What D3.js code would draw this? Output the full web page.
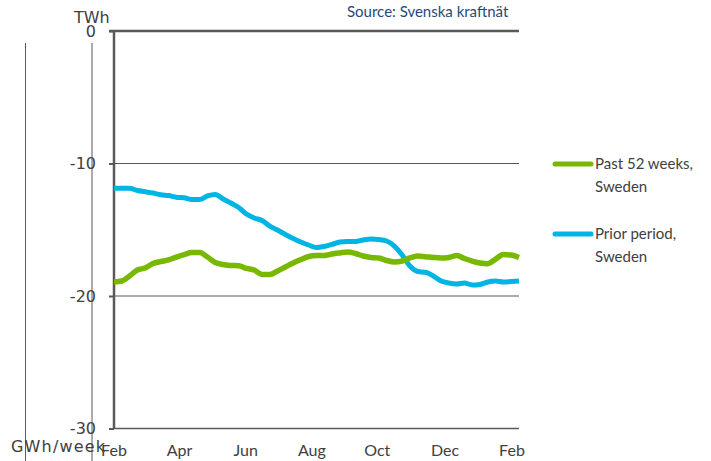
<!DOCTYPE html>
<html>
<head>
<meta charset="utf-8">
<script src="https://cdn.jsdelivr.net/npm/d3@7/dist/d3.min.js"></script>
<style>
  body { margin: 0; background: #fff; }
  svg { display: block; }
</style>
</head>
<body>
<svg id="chart" width="711" height="461"></svg>
<script>
// weekly values, TWh, 53 weeks Feb -> Feb
var past52 = [-18.94, -18.87, -18.49, -18.04, -17.89, -17.55, -17.40, -17.28, -17.06, -16.87,
    -16.72, -16.72, -17.06, -17.47, -17.62, -17.70, -17.71, -17.92, -18.04, -18.38,
    -18.38, -18.11, -17.81, -17.51, -17.25, -17.02, -16.94, -16.94, -16.83, -16.75,
    -16.68, -16.79, -16.98, -17.09, -17.13, -17.32, -17.43, -17.36, -17.13, -16.98,
    -17.03, -17.09, -17.13, -17.09, -16.94, -17.17, -17.36, -17.51, -17.56, -17.21,
    -16.87, -16.91, -17.09];
var prior = [-11.87, -11.87, -11.87, -12.04, -12.13, -12.23, -12.36, -12.42, -12.54, -12.58,
    -12.72, -12.72, -12.45, -12.34, -12.68, -12.98, -13.32, -13.81, -14.11, -14.30,
    -14.72, -15.02, -15.36, -15.66, -15.92, -16.15, -16.34, -16.26, -16.11, -15.92,
    -15.89, -15.89, -15.77, -15.70, -15.74, -15.85, -16.23, -16.91, -17.74, -18.15,
    -18.21, -18.49, -18.87, -19.02, -19.09, -19.02, -19.17, -19.13, -18.94, -18.87,
    -18.94, -18.91, -18.87];

var monthLabels = ["Feb", "Apr", "Jun", "Aug", "Oct", "Dec", "Feb"];
var monthWeeks = [0, 8.4, 16.9, 25.4, 33.8, 42.5, 51.1];
var yTicks = [0, -10, -20, -30];

var seriesNames = [["Past 52 weeks,", "Sweden"], ["Prior period,", "Sweden"]];
var seriesColors = ["#78b800", "#00b4e4"];

var svg = d3.select("#chart");

//scales
var x = d3.scaleLinear().domain([0, past52.length - 1]).range([114, 519]);
var y = d3.scaleLinear().domain([-30, 0]).range([428.5, 31]);

var axisColor = "#595959",
    textColor = "#404040";

//the two odd vertical lines on the left
svg.selectAll(".vline").data([25.5, 92]).enter()
    .append("line")
    .attr("x1", function (d) { return d; })
    .attr("x2", function (d) { return d; })
    .attr("y1", 43).attr("y2", 461)
    .attr("stroke", axisColor).attr("stroke-width", 1);

//gridlines
svg.selectAll(".grid").data([-10, -20]).enter()
    .append("line")
    .attr("x1", x(0)).attr("x2", x(52))
    .attr("y1", function (d) { return y(d); })
    .attr("y2", function (d) { return y(d); })
    .attr("stroke", axisColor).attr("stroke-width", 1);

//y axis
var yAxis = d3.axisLeft(y).tickValues(yTicks).tickSize(5).tickFormat(function (d) { return d; });
var gy = svg.append("g").attr("transform", "translate(" + x(0) + ",0)").call(yAxis);
gy.select(".domain").remove();
gy.selectAll(".tick line").attr("stroke", axisColor).attr("stroke-width", 2);
gy.selectAll(".tick text")
    .attr("x", -18)
    .attr("fill", textColor)
    .style("font-family", "DejaVu Sans")
    .style("font-size", "16px");

//frame: top line, left axis, bottom axis
svg.append("line")
    .attr("x1", 109).attr("x2", x(52))
    .attr("y1", y(0)).attr("y2", y(0))
    .attr("stroke", axisColor).attr("stroke-width", 2.5);
svg.append("line")
    .attr("x1", x(0)).attr("x2", x(0))
    .attr("y1", y(0)).attr("y2", y(-30))
    .attr("stroke", axisColor).attr("stroke-width", 2.5);
svg.append("line")
    .attr("x1", x(0)).attr("x2", x(52))
    .attr("y1", y(-30)).attr("y2", y(-30))
    .attr("stroke", axisColor).attr("stroke-width", 1.5);

//month labels
svg.selectAll(".month").data(monthLabels).enter()
    .append("text")
    .attr("x", function (d, i) { return x(monthWeeks[i]); })
    .attr("y", 456)
    .attr("text-anchor", "middle")
    .attr("fill", textColor)
    .style("font-family", "Lato")
    .style("font-size", "16px")
    .text(function (d) { return d; });

//unit labels
svg.append("text")
    .attr("x", 74).attr("y", 23)
    .attr("fill", textColor)
    .style("font-family", "DejaVu Sans").style("font-size", "16px")
    .text("TWh");
svg.append("text")
    .attr("x", 11).attr("y", 452)
    .attr("fill", textColor)
    .attr("textLength", 94)
    .style("font-family", "DejaVu Sans").style("font-size", "16px")
    .text("GWh/week");

//source
svg.append("text")
    .attr("x", 347).attr("y", 17)
    .attr("fill", "#1f497d")
    .style("font-family", "Lato").style("font-size", "15px")
    .text("Source: Svenska kraftnät");

//lines
var line = d3.line()
    .x(function (d, i) { return x(i); })
    .y(function (d) { return y(d); })
    .curve(d3.curveMonotoneX);

svg.append("path").datum(prior)
    .attr("d", line)
    .attr("fill", "none")
    .attr("stroke", seriesColors[1])
    .attr("stroke-width", 5)
    .attr("stroke-linejoin", "round");

svg.append("path").datum(past52)
    .attr("d", line)
    .attr("fill", "none")
    .attr("stroke", seriesColors[0])
    .attr("stroke-width", 5.5)
    .attr("stroke-linejoin", "round");

//legend
var legend = svg.selectAll(".legend").data(seriesNames).enter()
    .append("g")
    .attr("transform", function (d, i) { return "translate(555," + (164 + i * 70) + ")"; });

legend.append("line")
    .attr("x1", 0).attr("x2", 36)
    .attr("stroke", function (d, i) { return seriesColors[i]; })
    .attr("stroke-width", 5)
    .attr("stroke-linecap", "round");

legend.append("text")
    .attr("x", 40).attr("y", 5)
    .attr("fill", textColor)
    .style("font-family", "Lato").style("font-size", "15px")
    .selectAll("tspan").data(function (d) { return d; }).enter()
    .append("tspan")
    .attr("x", 40)
    .attr("dy", function (d, i) { return i ? 23 : 0; })
    .text(function (d) { return d; });
</script>
</body>
</html>
